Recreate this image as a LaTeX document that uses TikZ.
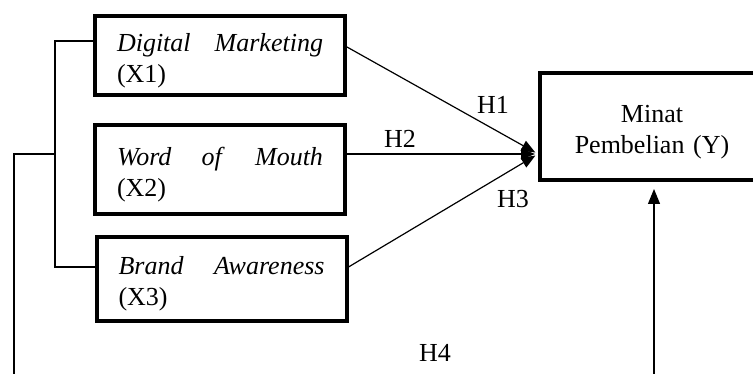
\documentclass[tikz,border=0pt]{standalone}
\usepackage{fontspec}
\setmainfont{Liberation Serif}
\usetikzlibrary{arrows.meta}

\begin{document}
\begin{tikzpicture}[x=1pt,y=-1pt]
\tikzstyle{var}=[draw,rectangle,line width=4pt,inner xsep=22pt,inner ysep=0pt,text width=206pt,text height=28pt,align=left,font=\fontsize{26}{31}\selectfont]
\tikzstyle{link}=[draw,line width=1.2pt]
\tikzstyle{tip}=[-{Triangle[length=14pt,width=11pt]}]
\tikzstyle{hyp}=[inner sep=0pt,font=\fontsize{26}{31}\selectfont]
\path[use as bounding box,clip] (0,0) rectangle (753,374);
% independent variables
\node[var,minimum width=250pt,minimum height=79pt] (dm) at (220,55.5) {\textit{Digital}\hfill\textit{Marketing}\\(X1)};
\node[var,minimum width=250pt,minimum height=89pt] (wom) at (220,169.5) {\textit{Word}\hfill\textit{of}\hfill\textit{Mouth}\\(X2)};
\node[var,minimum width=250pt,minimum height=84pt] (ba) at (221.5,279) {\textit{Brand}\hfill\textit{Awareness}\\(X3)};
% dependent variable
\node[var,text width=180pt,align=center,minimum width=224pt,minimum height=107pt] (my) at (652,126.5) {Minat\\Pembelian (Y)};
\coordinate (hit) at ([yshift=-27.5pt]my.west);
% partial paths
\draw[link,tip,shorten >=3pt] ([yshift=8.5pt]dm.east) -- (hit);
\draw[link,tip,shorten >=3pt] ([yshift=15.5pt]wom.east) -- (hit);
\draw[link,tip,shorten >=3pt] ([yshift=12pt]ba.east) -- (hit);
\node[hyp] (h1) at (493,105) {H1};
\node[hyp] (h2) at (400,139) {H2};
\node[hyp] (h3) at (513,199) {H3};
% simultaneous path
\coordinate (brk) at (55,154);
\coordinate (lft) at (14,154);
\coordinate (bot) at (654,392);
\draw[link] ([yshift=14.5pt]dm.west) -| (brk) |- ([yshift=12pt]ba.west);
\draw[link] (brk) -- (lft) |- (bot);
\draw[link,-{Triangle[length=15pt,width=12pt]},shorten >=7pt] (bot) -- (bot |- my.south);
\node[hyp] (h4) at (435,353) {H4};
\end{tikzpicture}
\end{document}
